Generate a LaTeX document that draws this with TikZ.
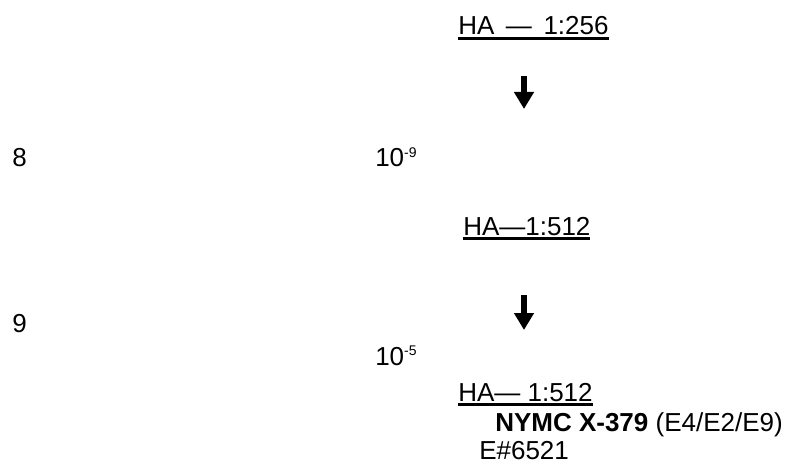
\documentclass[tikz,border=0pt]{standalone}
\usepackage{fontspec}
\setmainfont{Liberation Sans}
\usetikzlibrary{arrows.meta}
\newcommand{\ulbar}[1]{\setbox0\hbox{#1}\rlap{\rule[-3.4pt]{\wd0}{1.7pt}}\box0}
\newcommand{\expo}[1]{\raisebox{6.8pt}{\fontsize{10.5}{10.5}\selectfont #1}}
\tikzstyle{txt} = [anchor=base west, inner sep=0pt, font=\fontsize{19.5}{23}\selectfont]
\tikzstyle{arrow} = [line width=4.5pt, -{Triangle[length=12.75pt,width=14.25pt]}]

\begin{document}
\begin{tikzpicture}[x=0.75pt, y=-0.75pt]
\useasboundingbox (0,0) rectangle (787,463);

\node (ha256) [txt] at (458,35) {\ulbar{HA \,—\, 1:256}};
\node (dil8) [txt] at (12,167) {8};
\node (exp9) [txt] at (375,167) {10\expo{-9}};
\node (ha512a) [txt] at (463,235) {\ulbar{HA—1:512}};
\node (dil9) [txt] at (12,332) {9};
\node (exp5) [txt] at (375,365) {10\expo{-5}};
\node (ha512b) [txt] at (458,401) {\ulbar{HA— 1:512}};
\node (nymc) [txt] at (495,431) {\textbf{NYMC X-379} (E4/E2/E9)};
\node (egg) [txt, text depth=0pt] at (479,459) {E\#6521};

\coordinate (a1top) at (524,76);
\coordinate (a1tip) at (524,109);
\coordinate (a2top) at (524,295);
\coordinate (a2tip) at (524,330);

\draw [arrow] (a1top) -- (a1tip);
\draw [arrow] (a2top) -- (a2tip);

\end{tikzpicture}
\end{document}
